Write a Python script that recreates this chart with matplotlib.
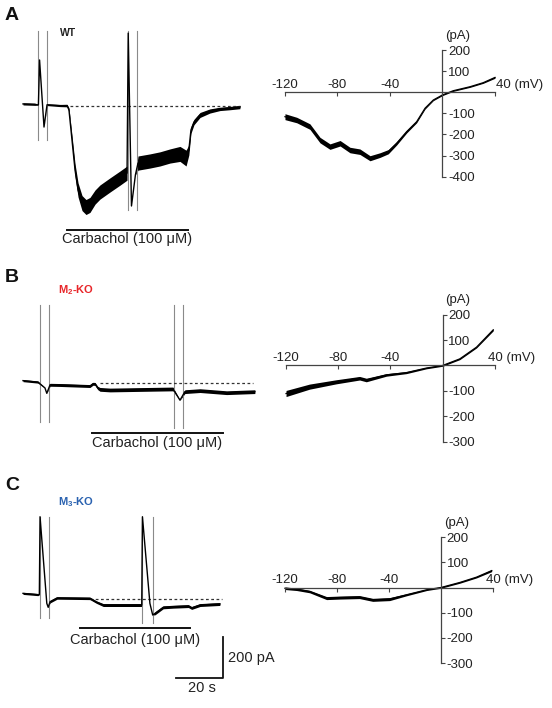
import matplotlib
matplotlib.use("Agg")
import matplotlib.pyplot as plt
import numpy as np

plt.rcParams['font.family'] = ['Liberation Sans', 'DejaVu Sans']
plt.rcParams['axes.unicode_minus'] = False
plt.rcParams['mathtext.fontset'] = 'custom'
plt.rcParams['mathtext.rm'] = 'Liberation Sans'
plt.rcParams['mathtext.bf'] = 'Liberation Sans:bold'

# ---- current traces (time in s, current in pA, noise half-width in pA) ----
wt_t = [0, 5.1, 6.6, 7.1, 9.0, 10.3, 15.9, 18.9, 19.7, 21.0, 22.3, 23.6, 25.3, 27.0, 28.7, 30.9,
        33.0, 37.3, 41.6, 44.6, 45.1, 46.5, 48.2, 49.3, 54.4, 58.7, 63.0, 67.3, 69.9, 71.1,
        72.0, 73.3, 75.9, 80.1, 84.4, 88.7, 93.0]
wt_i = [10, 8, 5, 221, -101, 6, 2, 2, -19, -163, -307, -403, -466, -485, -475, -437,
        -413, -379, -346, -322, 350, -480, -330, -274, -264, -254, -240, -230, -250, -211,
        -115, -77, -43, -24, -14, -10, -5]
wt_n = [5, 5, 0, 0, 0, 4, 5, 6, 10, 22, 30, 34, 36, 36, 36, 34,
        34, 34, 34, 34, 0, 0, 0, 34, 34, 34, 34, 36, 38, 24,
        16, 13, 12, 10, 8, 8, 8]

m2_t = [0, 6.4, 9.4, 10.2, 11.6, 15.9, 28.7, 30.0, 30.9, 32.0, 33.0, 37.3, 64.3, 67.3,
        69.4, 75.9, 87.3, 99.4]
m2_i = [10, 3, -25, -51, -10, -11, -16, -5, -6, -25, -32, -35, -30, -84, -43, -38, -48, -43]
m2_n = [5, 5, 0, 0, 7, 7, 7, 7, 7, 8, 9, 9, 9, 0, 9, 9, 9, 9]

m3_t = [0, 6.4, 7.0, 7.3, 10.2, 10.8, 11.6, 14.6, 28.7, 31.5, 34.4, 50.9, 51.2, 54.4,
        55.6, 56.6, 60.1, 64.4, 70.9, 72.3, 75.9, 84.4]
m3_i = [27, 21, 21, 395, -21, -40, -13, 5, 3, -15, -29, -29, 395, -21, -77, -69, -40,
        -37, -34, -43, -29, -24]
m3_n = [5, 5, 0, 0, 0, 0, 6, 6, 6, 6, 7, 7, 0, 0, 0, 7, 7, 7, 7, 7, 7, 7]

# ramp artefacts: (time, bottom, top)
wt_art = [(6.6, -163, 361), (10.2, -163, 361), (45.1, -499, 361), (48.7, -499, 361)]
m2_art = [(7.3, -187, 373), (11.1, -187, 373), (64.9, -219, 373), (68.7, -219, 373)]
m3_art = [(7.3, -91, 395), (11.1, -91, 395), (50.9, -114, 395), (55.6, -114, 395)]

# baseline dashes and carbachol application (s)
wt_base, m2_base, m3_base = (20.1, 93.0), (33.0, 98.6), (28.7, 85.2)
wt_cch, m2_cch, m3_cch = (18.9, 70.7), (29.6, 85.7), (24.4, 71.6)

# ---- I-V relations (mV, pA) ----
wt_v = [-120, -111, -101, -93.3, -85.7, -78, -70.5, -62.9, -55.2, -47.6, -41.3, -34.9,
        -27.3, -19.7, -13.3, -7, 0, 8.2, 21, 31, 40]
wt_iv = [-116, -132, -163, -227, -258, -242, -274, -282, -313, -298, -282, -242,
         -187, -140, -76, -37, -13, 7, 26, 45, 70]
wt_ivn = [14, 13, 13, 13, 13, 13, 13, 13, 12, 11, 10, 8, 6, 5, 4, 3, 3, 3, 3, 3, 4]

m2_v = [-120, -102, -81.5, -63.6, -58.5, -43.1, -27.8, -12.4, 0, 13.2, 26, 38.8]
m2_iv = [-110, -83, -64, -50, -57, -37, -28, -10, 0, 26, 72, 140]
m2_ivn = [12, 10, 8, 7, 7, 5, 4, 3, 3, 3, 3, 4]

m3_v = [-120, -111, -101, -88, -78, -62.7, -52.5, -39.5, -26.6, -11, 0, 14.5, 27.3, 39]
m3_iv = [-3, -7, -16, -42, -40, -38, -49, -46, -29, -9, 0, 20, 41, 67]
m3_ivn = [5, 5, 5, 6, 6, 6, 6, 6, 4, 3, 3, 3, 3, 4]

W, H = 552, 708
fig = plt.figure(figsize=(W / 100, H / 100), dpi=100)


def box(x0, y0, x1, y1):
    return fig.add_axes([x0 / W, 1 - y1 / H, (x1 - x0) / W, (y1 - y0) / H])


def trace(ax, t, i, n, art, base, ylim):
    t, i, n = np.array(t), np.array(i), np.array(n)
    ax.set_xlim(-1.29, 101.6)
    ax.set_ylim(*ylim)
    ax.axis('off')
    for ta, lo, hi in art:
        ax.plot([ta, ta], [lo, hi], color='#8a8a8a', lw=0.8)
    ax.plot(base, [0, 0], color='#333333', lw=0.9, dashes=(2.2, 2))
    ax.fill_between(t, i - n, i + n, color='black', lw=0)
    ax.plot(t, i, color='black', lw=1.0)


def iv(ax, v, i, n, xlim, ylim, yticks, lab40):
    v, i, n = np.array(v), np.array(i), np.array(n)
    ax.set_xlim(*xlim)
    ax.set_ylim(*ylim)
    ax.patch.set_alpha(0)
    for s in ('left', 'bottom'):
        ax.spines[s].set_visible(False)
    ax.spines['top'].set_position(('data', 0))
    ax.spines['right'].set_position(('data', 0))
    ax.spines['top'].set_bounds(-120, 40)
    ax.spines['right'].set_bounds(min(yticks), max(yticks))
    for s in ('top', 'right'):
        ax.spines[s].set_color('#444444')
        ax.spines[s].set_linewidth(0.9)
    ax.xaxis.set_ticks_position('top')
    ax.yaxis.set_ticks_position('right')
    ax.set_xticks([-120, -80, -40, 40])
    ax.set_xticklabels(['-120', '-80', '-40', ''])
    ax.set_yticks(yticks)
    ax.set_yticklabels([str(y) for y in yticks])
    ax.tick_params(axis='x', direction='in', length=3, pad=1, labelsize=9.5,
                   color='#444444', labelcolor='#222222')
    ax.tick_params(axis='y', direction='out', length=3, pad=1, labelsize=9.5,
                   color='#444444', labelcolor='#222222')
    ax.fill_between(v, i - n, i + n, color='black', lw=0)
    ax.plot(v, i, color='black', lw=0.9)
    ax.annotate('40 (mV)', (40, 0), xytext=(lab40, 1), textcoords='offset points',
                ha='left', va='bottom', fontsize=9.5, color='#222222')
    ax.annotate('(pA)', (0, max(yticks)), xytext=(11, 6), textcoords='offset points',
                ha='center', va='bottom', fontsize=9.5, color='#222222')


# left: current traces
axa = box(20, 25, 260, 250)
trace(axa, wt_t, wt_i, wt_n, wt_art, wt_base, (-691.3, 388.9))
axb = box(20, 300, 260, 450)
trace(axb, m2_t, m2_i, m2_n, m2_art, m2_base, (-323, 397))
axc = box(20, 510, 260, 700)
trace(axc, m3_t, m3_i, m3_n, m3_art, m3_base, (-484.9, 427.3))

for ax, cch, ytxt, ybar in ((axa, wt_cch, -638, -595), (axb, m2_cch, -289, -241),
                            (axc, m3_cch, -197, -139)):
    ax.plot(cch, [ybar, ybar], color='#111111', lw=1.4)
    ax.text(np.mean(cch), ytxt, 'Carbachol (100 \u03bcM)', ha='center', va='center',
            fontsize=10.5, color='#222222')

# scale bar
axc.plot([65.6, 85.6, 85.6], [-381, -381, -181], color='#111111', lw=1.3)
axc.text(87.9, -283, '200 pA', ha='left', va='center', fontsize=10.5, color='#222222')
axc.text(76.7, -427, '20 s', ha='center', va='center', fontsize=10.5, color='#222222')

# right: I-V relations
iva = box(270, 25, 545, 185)
iv(iva, wt_v, wt_iv, wt_ivn, (-131.4, 78.1), (-439.8, 318.5),
   [200, 100, -100, -200, -300, -400], 1)
ivb = box(270, 290, 545, 455)
iv(ivb, m2_v, m2_iv, m2_ivn, (-132.3, 78.5), (-351.4, 296.4),
   [200, 100, -100, -200, -300], -5)
ivc = box(270, 510, 545, 680)
iv(ivc, m3_v, m3_iv, m3_ivn, (-131.5, 80.0), (-367, 307.5),
   [200, 100, -100, -200, -300], -5)

# labels
for letter, y in (('A', 15), ('B', 278), ('C', 485)):
    fig.text(5 / W, 1 - y / H, letter, fontsize=14, fontweight='bold', va='center',
             ha='left', color='#111111')
fig.text(60 / W, 1 - 33 / H, 'WT', fontsize=7.5, fontweight='bold', va='center',
         color='#222222')
fig.text(58 / W, 1 - 290 / H, r'M$_\mathbf{2}$-KO', fontsize=8, fontweight='bold',
         va='center', color='#e8262a')
fig.text(58 / W, 1 - 502 / H, r'M$_\mathbf{3}$-KO', fontsize=8, fontweight='bold',
         va='center', color='#2a62b0')

fig.savefig('out.png', dpi=100)
